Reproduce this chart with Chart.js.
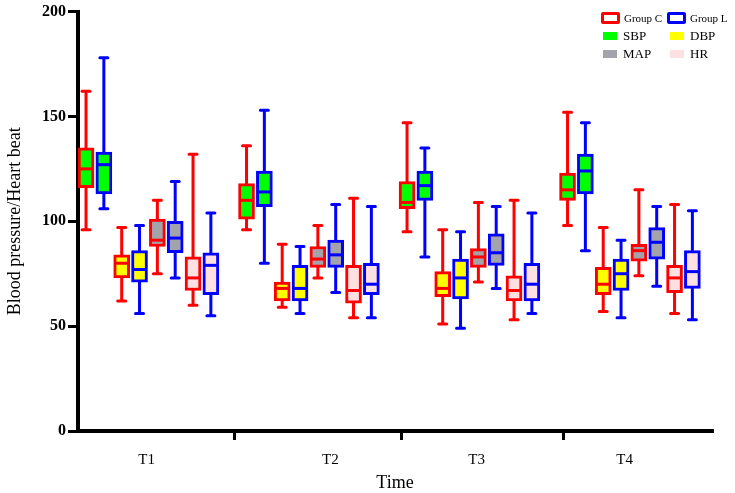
<!DOCTYPE html>
<html>
<head>
<meta charset="utf-8">
<script src="https://cdn.jsdelivr.net/npm/chart.js@4.4.0/dist/chart.umd.min.js"></script>
<style>
  html, body { margin: 0; padding: 0; background: #fff; }
  #wrap { position: relative; width: 735px; height: 493px; }
  #boxChart { position: absolute; left: 0; top: 0; }
  #legend { position: absolute; left: 0; top: 0; font-family: 'Liberation Serif', 'Times New Roman', serif; color: #000; }
  .lg { position: absolute; white-space: nowrap; line-height: 1; }
  .sw { position: absolute; box-sizing: border-box; }
</style>
</head>
<body>
<div id="wrap">
  <canvas id="boxChart" width="735" height="493"></canvas>
  <div id="legend"></div>
</div>
<script>
const times = ['T1', 'T2', 'T3', 'T4'];
const groups = ['Group C', 'Group L'];
const measures = ['SBP', 'DBP', 'MAP', 'HR'];

// five-number summaries [min, q1, median, q3, max] for T1..T4
const sbpC = [[96, 116, 125, 135, 162], [96, 101, 110, 118, 136], [95, 106, 109, 119, 147], [98, 110, 115, 123, 152]];
const sbpL = [[106, 113, 127, 133, 178], [80, 107, 114, 124, 153], [83, 110, 117, 124, 135], [86, 113, 124, 132, 147]];
const dbpC = [[62, 73, 80, 84, 97], [59, 62, 68, 71, 89], [51, 64, 68, 76, 96], [57, 65, 70, 78, 97]];
const dbpL = [[56, 71, 77, 86, 98], [56, 62, 68, 79, 88], [49, 63, 73, 82, 95], [54, 67, 75, 82, 91]];
const mapC = [[75, 88, 91, 101, 110], [73, 78, 82, 88, 98], [71, 78, 83, 87, 109], [74, 81, 86, 89, 115]];
const mapL = [[73, 85, 92, 100, 119], [66, 78, 84, 91, 108], [68, 79, 85, 94, 107], [69, 82, 90, 97, 107]];
const hrC = [[60, 67, 73, 83, 132], [54, 61, 67, 79, 111], [53, 62, 67, 74, 110], [56, 66, 73, 79, 108]];
const hrL = [[55, 65, 79, 85, 104], [54, 65, 70, 80, 107], [56, 62, 70, 80, 104], [53, 68, 76, 86, 105]];
const yTicks = [0, 50, 100, 150, 200];

// styles
const groupColors = ['#ff0000', '#0000ff'];
const measureColors = ['#00ff00', '#ffff00', '#a3a3ab', '#fde0e2'];
const serif = "'Liberation Serif', 'Times New Roman', serif";

// series in drawing order inside each time block
const series = [
  { stats: sbpC, g: 0, m: 0 }, { stats: sbpL, g: 1, m: 0 },
  { stats: dbpC, g: 0, m: 1 }, { stats: dbpL, g: 1, m: 1 },
  { stats: mapC, g: 0, m: 2 }, { stats: mapL, g: 1, m: 2 },
  { stats: hrC, g: 0, m: 3 }, { stats: hrL, g: 1, m: 3 }
];
const slotsPerTime = series.length + 1;
const sepTicks = [8.3, 17.7, 26.8];
const labelTicks = [3.4, 13.7, 21.9, 30.2];

const datasets = series.map((s, si) => ({
  label: groups[s.g] + ' ' + measures[s.m],
  stats: s.stats,
  data: s.stats.map((v, ti) => ({ x: ti * slotsPerTime + si, y: [v[1], v[3]] })),
  backgroundColor: measureColors[s.m],
  borderColor: groupColors[s.g],
  borderWidth: 3,
  borderSkipped: false,
  barThickness: 16,
  grouped: false
}));

const boxWhiskers = {
  id: 'boxWhiskers',
  afterDatasetsDraw(chart) {
    const ctx = chart.ctx;
    const y = chart.scales.y;
    chart.data.datasets.forEach((ds, di) => {
      chart.getDatasetMeta(di).data.forEach((bar, i) => {
        const [mn, q1, md, q3, mx] = ds.stats[i];
        const x = bar.x;
        const half = bar.width / 2;
        ctx.save();
        ctx.strokeStyle = ds.borderColor;
        ctx.lineWidth = 3;
        ctx.lineCap = 'round';
        ctx.beginPath();
        ctx.moveTo(x, y.getPixelForValue(q3));
        ctx.lineTo(x, y.getPixelForValue(mx));
        ctx.moveTo(x, y.getPixelForValue(q1));
        ctx.lineTo(x, y.getPixelForValue(mn));
        ctx.moveTo(x - 4, y.getPixelForValue(mx));
        ctx.lineTo(x + 4, y.getPixelForValue(mx));
        ctx.moveTo(x - 4, y.getPixelForValue(mn));
        ctx.lineTo(x + 4, y.getPixelForValue(mn));
        ctx.stroke();
        ctx.lineCap = 'butt';
        ctx.beginPath();
        ctx.moveTo(x - half + 2, y.getPixelForValue(md));
        ctx.lineTo(x + half - 2, y.getPixelForValue(md));
        ctx.stroke();
        ctx.restore();
      });
    });
  }
};

new Chart(document.getElementById('boxChart'), {
  type: 'bar',
  data: { datasets },
  plugins: [boxWhiskers],
  options: {
    responsive: false,
    animation: false,
    layout: { padding: { top: 10, right: 23, left: 0, bottom: 0 } },
    plugins: { legend: { display: false }, tooltip: { enabled: false } },
    scales: {
      x: {
        type: 'linear', min: -0.45, max: 35.1, offset: false, weight: 0,
        afterBuildTicks: s => { s.ticks = sepTicks.map(v => ({ value: v })); },
        afterFit: s => { s.height = 12; },
        ticks: { callback: () => '', font: { size: 1 } },
        grid: { offset: false, drawOnChartArea: false, drawTicks: true, tickLength: 9, color: '#000', lineWidth: 3 },
        border: { display: true, color: '#000', width: 4 }
      },
      x2: {
        type: 'linear', position: 'bottom', min: -0.45, max: 35.1, offset: false, weight: 1,
        afterBuildTicks: s => { s.ticks = labelTicks.map(v => ({ value: v })); },
        afterFit: s => { s.height = 50; },
        ticks: { callback: (v, i) => times[i], color: '#000', padding: 8, font: { family: serif, size: 15 }, maxRotation: 0, autoSkip: false },
        grid: { display: false, drawTicks: false, offset: false },
        border: { display: false },
        title: { display: true, text: 'Time', color: '#000', font: { family: serif, size: 18 }, padding: { top: 0, bottom: -1 } }
      },
      y: {
        min: 0, max: 200,
        afterBuildTicks: s => { s.ticks = yTicks.map(v => ({ value: v })); },
        afterFit: s => { s.width = 78; },
        ticks: { color: '#000', padding: 2, font: { family: serif, size: 16, weight: 'bold' } },
        grid: { drawOnChartArea: false, drawTicks: true, tickLength: 10, color: '#000', lineWidth: 3 },
        border: { display: true, color: '#000', width: 4 },
        title: { display: true, text: 'Blood pressure/Heart beat', color: '#000', font: { family: serif, size: 18 }, padding: { top: 4, bottom: 0 } }
      }
    }
  }
});

// legend: group outlines on the first row, measure fills below in two columns
const legend = document.getElementById('legend');
function addItem(swLeft, swTop, swW, swH, css, text, textLeft, textTop, size) {
  const sw = document.createElement('div');
  sw.className = 'sw';
  sw.style.cssText += `left:${swLeft}px;top:${swTop}px;width:${swW}px;height:${swH}px;` + css;
  legend.appendChild(sw);
  const t = document.createElement('div');
  t.className = 'lg';
  t.textContent = text;
  t.style.cssText += `left:${textLeft}px;top:${textTop}px;font-size:${size}px;`;
  legend.appendChild(t);
}
groups.forEach((g, i) => {
  const x = 601 + i * 66;
  addItem(x, 12, 19, 12, `border:3px solid ${groupColors[i]};border-radius:2px;`, g, x + 23, 13, 11);
});
measures.forEach((m, i) => {
  const x = 603 + (i % 2) * 67;
  const y = 32 + Math.floor(i / 2) * 18;
  addItem(x, y, 14, 8, `background:${measureColors[i]};`, m, x + 20, y - 3, 13);
});
</script>
</body>
</html>
